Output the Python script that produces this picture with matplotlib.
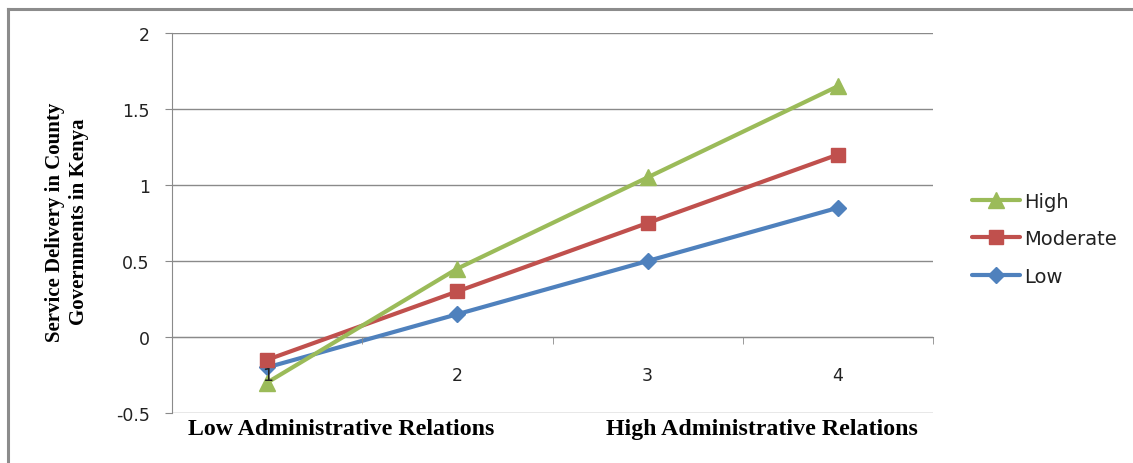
import matplotlib
matplotlib.use("Agg")
import matplotlib.pyplot as plt
from matplotlib.lines import Line2D

# Interaction of administrative relations and service delivery
categories = ["1", "2", "3", "4"]
series_names = ["High", "Moderate", "Low"]
high = [-0.3, 0.45, 1.05, 1.65]
moderate = [-0.15, 0.3, 0.75, 1.2]
low = [-0.2, 0.15, 0.5, 0.85]
y_ticks = [-0.5, 0, 0.5, 1, 1.5, 2]
y_tick_labels = ["-0.5", "0", "0.5", "1", "1.5", "2"]

colors = {"High": "#9BBB59", "Moderate": "#C0504D", "Low": "#4F81BD"}
markers = {"High": "^", "Moderate": "s", "Low": "D"}
msizes = {"High": 11, "Moderate": 10, "Low": 8}

W, H = 1133, 464
fig = plt.figure(figsize=(W / 100, H / 100), dpi=100)
ax = fig.add_axes([172 / W, 1 - 414 / H, (933 - 172) / W, (414 - 34) / H])

x = list(range(1, len(categories) + 1))
for name, vals in zip(["Low", "Moderate", "High"], [low, moderate, high]):
    ax.plot(x, vals, color=colors[name], lw=3.0, marker=markers[name],
            markersize=msizes[name], solid_capstyle="round", label=name,
            zorder=3)
handles = {h.get_label(): h for h in ax.get_lines()}

ax.set_xlim(0.5, len(categories) + 0.5)
ax.set_ylim(-0.5, 2)
ax.set_yticks(y_ticks)
ax.set_yticklabels(y_tick_labels)

grid_color = "#8a8a8a"
ax.grid(axis="y", color=grid_color, lw=1.0)
ax.set_axisbelow(True)
ax.xaxis.set_zorder(4)
for s in ["top", "right"]:
    ax.spines[s].set_visible(False)
ax.spines["left"].set_color(grid_color)
ax.spines["bottom"].set_color(grid_color)
ax.spines["bottom"].set_position(("data", 0))

# category labels at centres, tick marks at category boundaries
ax.set_xticks(x)
ax.set_xticklabels(categories)
ax.set_xticks([i + 0.5 for i in range(0, len(categories) + 1)], minor=True)
ax.tick_params(axis="x", which="major", length=0, pad=21, labelsize=12.5,
               labelcolor="#222222")
ax.tick_params(axis="x", which="minor", length=5, color=grid_color,
               direction="out")
ax.tick_params(axis="y", length=5, color=grid_color, pad=11, labelsize=12.5,
               labelcolor="#222222")

leg = fig.legend([handles[n] for n in series_names], series_names,
                 loc="upper left", bbox_to_anchor=(962 / W, 1 - 183 / H),
                 frameon=False, fontsize=14, handlelength=2.5,
                 labelspacing=0.95, handletextpad=0.2, borderpad=0)
for t in leg.get_texts():
    t.set_color("#222222")

serif = ["Liberation Serif", "DejaVu Serif"]
fig.text(67 / W, 1 - 222 / H, "Service Delivery in County\nGovernments in Kenya",
         rotation=90, ha="center", va="center", fontsize=15,
         fontweight="bold", family=serif, linespacing=1.3)
fig.text(341 / W, 1 - 430 / H, "Low Administrative Relations", ha="center",
         va="center", fontsize=17.2, fontweight="bold", family=serif)
fig.text(762 / W, 1 - 430 / H, "High Administrative Relations", ha="center",
         va="center", fontsize=17.2, fontweight="bold", family=serif)

# outer frame (top and left edges)
fig.add_artist(Line2D([8 / W, 1], [1 - 10 / H, 1 - 10 / H], color="#8c8c8c",
                      lw=2.2, transform=fig.transFigure))
fig.add_artist(Line2D([8 / W, 8 / W], [0, 1 - 10 / H], color="#8c8c8c",
                      lw=2.2, transform=fig.transFigure))

fig.savefig("out.png", dpi=100, facecolor="white")
